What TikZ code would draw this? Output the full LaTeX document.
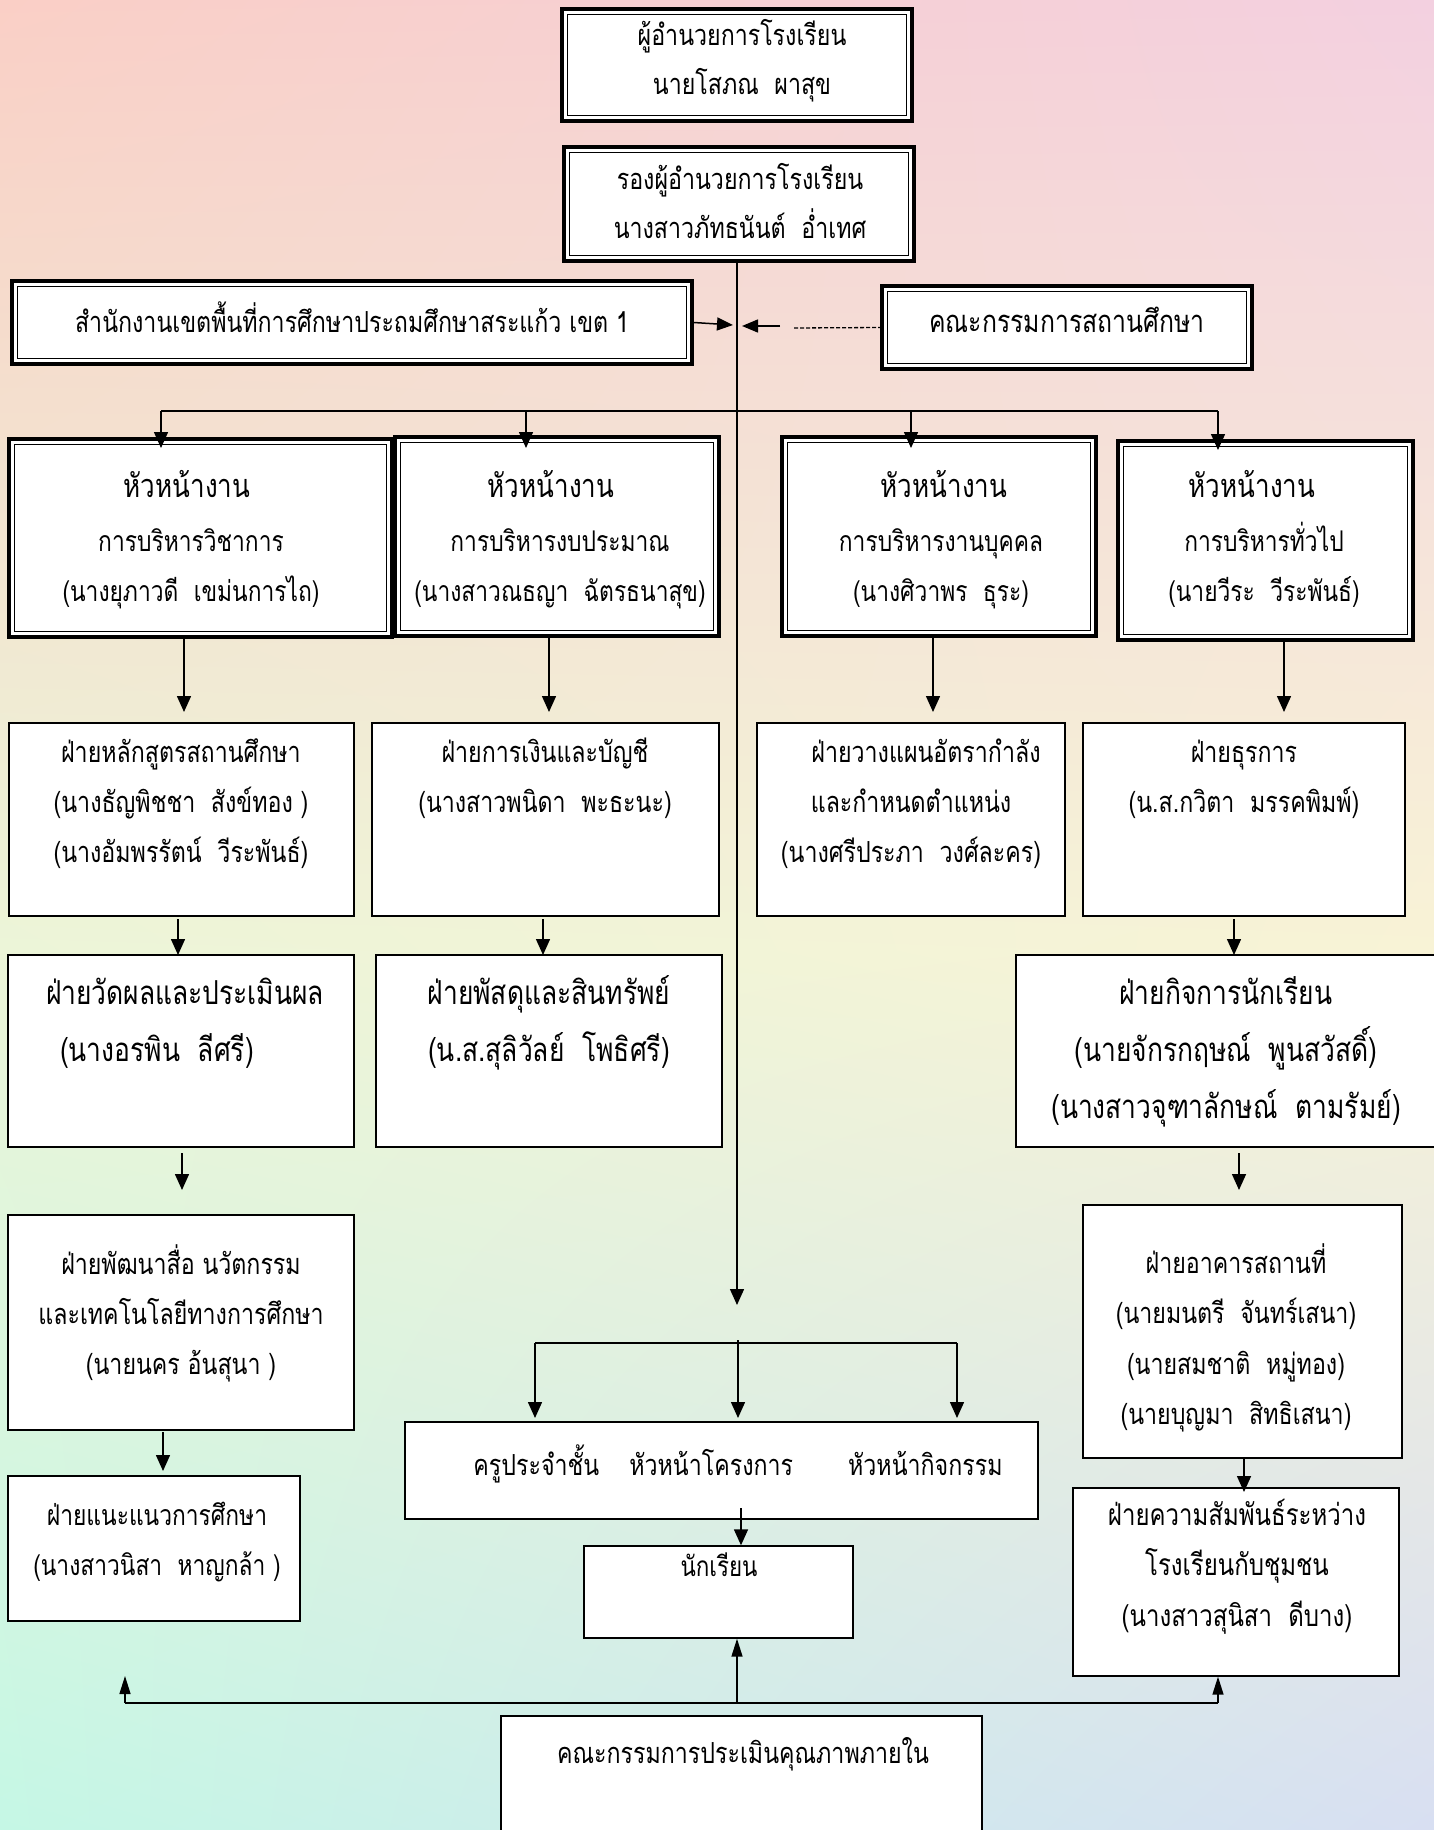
\documentclass[tikz,border=0pt]{standalone}
\usepackage{fontspec}
\newfontfamily\thaifont[Script=Thai,FakeStretch=0.8]{Loma}
\usetikzlibrary{arrows.meta,calc,shadings}
\definecolor{bgTL}{RGB}{250,207,198}
\definecolor{bgTR}{RGB}{243,208,224}
\definecolor{bgML}{RGB}{236,245,216}
\definecolor{bgMR}{RGB}{248,243,214}
\definecolor{bgBL}{RGB}{197,247,229}
\definecolor{bgBR}{RGB}{216,223,242}
\newcommand\mkbox[6]{\node[#6, minimum width={#4-#2}, minimum height={#5-#3}] (#1) at ({(#2+#4)/2},{(#3+#5)/2}) {};}
\newcommand\mktext[6]{\node[tx, font={\thaifont\fontsize{#4}{#5}\selectfont}, yshift={0.7*#5}] (#1) at (#2,#3) {\strut #6};}
\begin{document}
\begin{tikzpicture}[x=1pt,y=-1pt,
  box/.style={draw, fill=white, line width=1.4pt, inner sep=0pt},
  dbl/.style={box, line width=3.4pt, path picture={\draw[line width=1.2pt] ([shift={(5.5pt,5.5pt)}]path picture bounding box.south west) rectangle ([shift={(-5.5pt,-5.5pt)}]path picture bounding box.north east);}},
  arr/.style={line width=1.5pt, -{Triangle[length=16pt,width=14pt]}},
  sarr/.style={line width=1.5pt, -{Triangle[length=16pt,width=13pt]}},
  uparr/.style={line width=1.5pt, -{Triangle[length=18pt,width=11pt]}},
  tx/.style={inner sep=0pt, anchor=north, align=center, text=black}
]
\useasboundingbox (0,0) rectangle (1434,1830);
\shade[upper left=bgTL, upper right=bgTR, lower left=bgML, lower right=bgMR] (0,0) rectangle (1434,950);
\shade[upper left=bgML, upper right=bgMR, lower left=bgBL, lower right=bgBR] (0,950) rectangle (1434,1830);

% boxes
\mkbox{A}{562}{9}{912}{121}{dbl}
\mkbox{B}{564}{147}{914}{261}{dbl}
\mkbox{C}{12}{281}{692}{364}{dbl}
\mkbox{D}{882}{286}{1252}{369}{dbl}
\mkbox{H1}{9}{439}{392}{637}{dbl}
\mkbox{H2}{395}{437}{719}{636}{dbl}
\mkbox{H3}{782}{437}{1096}{636}{dbl}
\mkbox{H4}{1118}{441}{1413}{640}{dbl}
\mkbox{R2a}{9}{723}{354}{916}{box}
\mkbox{R2b}{372}{723}{719}{916}{box}
\mkbox{R2c}{757}{723}{1065}{916}{box}
\mkbox{R2d}{1083}{723}{1405}{916}{box}
\mkbox{R3a}{8}{955}{354}{1147}{box}
\mkbox{R3b}{376}{955}{722}{1147}{box}
\mkbox{R3d}{1016}{955}{1445}{1147}{box}
\mkbox{R4a}{8}{1215}{354}{1430}{box}
\mkbox{R4d}{1083}{1205}{1402}{1458}{box}
\mkbox{R5a}{8}{1476}{300}{1621}{box}
\mkbox{R5d}{1073}{1488}{1399}{1676}{box}
\mkbox{CB}{405}{1422}{1038}{1519}{box}
\mkbox{ST}{584}{1546}{853}{1638}{box}
\mkbox{BT}{501}{1716}{982}{1845}{box}

% coordinates
\coordinate (mtop) at (737,261);
\coordinate (mend) at (737,1305);
\coordinate (dL) at (161,411);
\coordinate (dR) at (1218,411);
\coordinate (cL) at (535,1343);
\coordinate (cM) at (738,1340);
\coordinate (cR) at (957,1343);
\coordinate (bL) at (125,1703);
\coordinate (bM) at (737,1703);
\coordinate (bR) at (1218,1703);

% main spine
\draw[arr] (mtop) -- (mend);
\draw[line width=1.5pt] (dL) -- (dR);
\draw[arr] (dL) -- (161,448);
\draw[arr] (526,411) -- (526,448);
\draw[arr] (911,411) -- (911,448);
\draw[arr] (dR) -- (1218,450);

% side arrows
\draw[sarr] (C.east) -- (733,325);
\draw[sarr] (780,326) -- (742,326);
\draw[line width=1.3pt, dash pattern=on 4pt off 2pt] (794,328) -- (D.west);

% heads to row 2
\draw[arr] (184,637) -- (184,712);
\draw[arr] (549,636) -- (549,712);
\draw[arr] (933,636) -- (933,712);
\draw[arr] (1284,640) -- (1284,712);
% row 2 to row 3
\draw[arr] (178,919) -- (178,955);
\draw[arr] (543,919) -- (543,955);
\draw[arr] (1234,919) -- (1234,955);
% row 3 to row 4
\draw[arr] (182,1153) -- (182,1190);
\draw[arr] (1239,1153) -- (1239,1190);
% row 4 to row 5
\draw[arr] (163,1432) -- (163,1471);
\draw[arr] (1244,1458) -- (1244,1492);
% centre branch
\draw[line width=1.5pt] (cL) -- (cR);
\draw[arr] (cM) -- (738,1418);
\draw[arr] (cL) -- (535,1418);
\draw[arr] (cR) -- (957,1418);
\draw[arr] (741,1508) -- (ST.north -| 741,0);
% bottom
\draw[line width=2.6pt] (bL) -- (bR);
\draw[uparr] (bL) -- (125,1676);
\draw[uparr] (bM) -- (ST.south -| bM);
\draw[uparr] (bR) -- (R5d.south -| bR);

% texts
\mktext{tA}{742}{45}{29}{49}{ผู้อำนวยการโรงเรียน\\นายโสภณ~ ผาสุข}
\mktext{tB}{740}{189}{29}{49}{รองผู้อำนวยการโรงเรียน\\นางสาวภัทธนันต์~ อ่ำเทศ}
\mktext{tC}{352}{332}{29}{49}{สำนักงานเขตพื้นที่การศึกษาประถมศึกษาสระแก้ว เขต 1}
\mktext{tD}{1067}{332}{31}{49}{คณะกรรมการสถานศึกษา}

\mktext{tH1a}{187}{497}{32.5}{55}{หัวหน้างาน}
\mktext{tH1b}{191}{551}{28.5}{50}{การบริหารวิชาการ\\(นางยุภาวดี~ เขม่นการไถ)}
\mktext{tH2a}{551}{497}{32.5}{55}{หัวหน้างาน}
\mktext{tH2b}{560}{551}{28.5}{50}{การบริหารงบประมาณ\\(นางสาวณธญา~ ฉัตรธนาสุข)}
\mktext{tH3a}{944}{497}{32.5}{55}{หัวหน้างาน}
\mktext{tH3b}{941}{551}{28.5}{50}{การบริหารงานบุคคล\\(นางศิวาพร~ ธุระ)}
\mktext{tH4a}{1252}{497}{32.5}{55}{หัวหน้างาน}
\mktext{tH4b}{1264}{551}{28.5}{50}{การบริหารทั่วไป\\(นายวีระ~ วีระพันธ์)}

\mktext{t2a}{181}{762}{29}{50}{ฝ่ายหลักสูตรสถานศึกษา\\(นางธัญพิชชา~ สังข์ทอง )\\ (นางอัมพรรัตน์~ วีระพันธ์)}
\mktext{t2b}{545}{762}{29}{50}{ฝ่ายการเงินและบัญชี\\(นางสาวพนิดา~ พะธะนะ)}
\mktext{t2c}{911}{762}{29}{50}{\hspace*{30pt}ฝ่ายวางแผนอัตรากำลัง\\และกำหนดตำแหน่ง\\(นางศรีประภา~ วงศ์ละคร)}
\mktext{t2d}{1244}{762}{29}{50}{ฝ่ายธุรการ\\(น.ส.กวิตา~ มรรคพิมพ์)}

\mktext{t3a}{185}{1004}{33}{57}{ฝ่ายวัดผลและประเมินผล\\(นางอรพิน~ ลีศรี)\hspace*{56pt}}
\mktext{t3b}{549}{1004}{33}{57}{ฝ่ายพัสดุและสินทรัพย์\\(น.ส.สุลิวัลย์~ โพธิศรี)}
\mktext{t3d}{1226}{1004}{33}{57}{ฝ่ายกิจการนักเรียน\\(นายจักรกฤษณ์~ พูนสวัสดิ์)\\(นางสาวจุฑาลักษณ์~ ตามรัมย์)}

\mktext{t4a}{181}{1274}{29}{50}{ฝ่ายพัฒนาสื่อ นวัตกรรม\\และเทคโนโลยีทางการศึกษา\\(นายนคร อ้นสุนา )}
\mktext{t4d}{1236}{1273}{29}{50.5}{ฝ่ายอาคารสถานที่\\(นายมนตรี~ จันทร์เสนา)\\(นายสมชาติ~ หมู่ทอง)\\(นายบุญมา~ สิทธิเสนา)}
\mktext{t5a}{157}{1525}{28.5}{50}{ฝ่ายแนะแนวการศึกษา\\(นางสาวนิสา~ หาญกล้า )}
\mktext{t5d}{1237}{1525}{30}{50.5}{ฝ่ายความสัมพันธ์ระหว่าง\\โรงเรียนกับชุมชน\\(นางสาวสุนิสา~ ดีบาง)}

\mktext{tCB}{738}{1475}{29}{50}{ครูประจำชั้น\hspace{30pt}หัวหน้าโครงการ\hspace{55pt}หัวหน้ากิจกรรม}
\mktext{tST}{719}{1576}{28}{50}{นักเรียน}
\mktext{tBT}{743}{1763}{29}{50}{คณะกรรมการประเมินคุณภาพภายใน}
\end{tikzpicture}
\end{document}
